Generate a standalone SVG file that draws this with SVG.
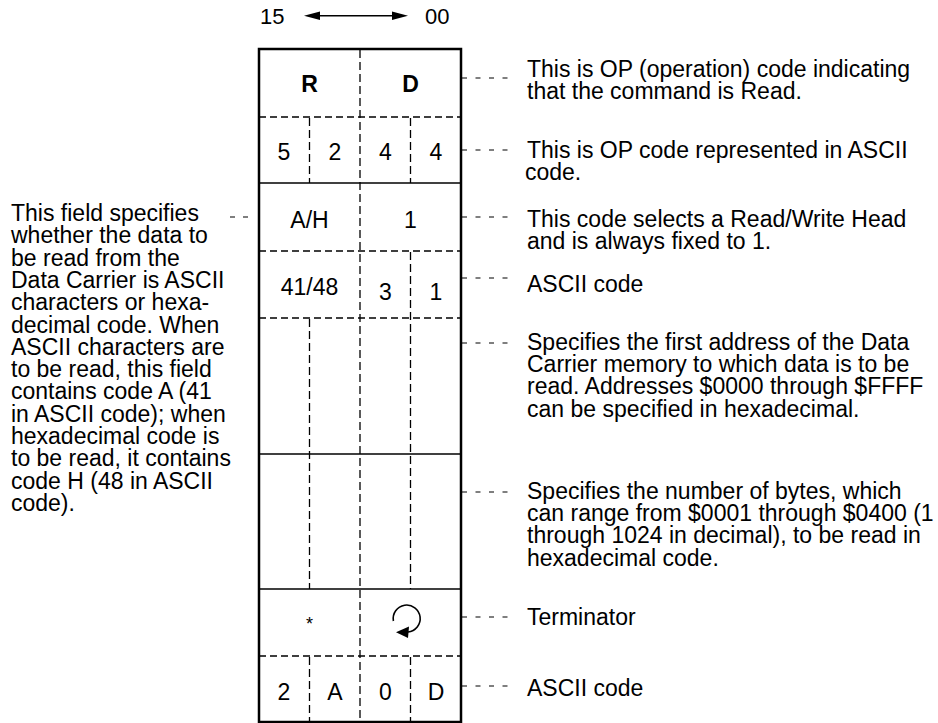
<svg xmlns="http://www.w3.org/2000/svg" width="938" height="723" viewBox="0 0 938 723">
<style>
text{font-family:"Liberation Sans",Arial,Helvetica,sans-serif;font-size:23px;fill:#000}
.c{text-anchor:middle}
.b{font-weight:bold}
.outer{fill:none;stroke:#000;stroke-width:2.5}
.solid{stroke:#000;stroke-width:1.5;fill:none}
.dv{stroke:#000;stroke-width:1.3;stroke-dasharray:8 4}
.dh{stroke:#000;stroke-width:1.3;stroke-dasharray:7 4}
.lead{stroke:#000;stroke-width:1.2;stroke-dasharray:5 8.5}
</style>
<rect width="938" height="723" fill="#fff"/>

<g id="bit-header">
<text x="260" y="24" style="font-size:22px">15</text>
<text x="425" y="24" style="font-size:22px">00</text>
<line x1="312" y1="15.7" x2="400" y2="15.7" class="solid"/>
<polygon points="304,15.7 320,11.5 320,19.9"/>
<polygon points="408,15.7 392,11.5 392,19.9"/>
</g>

<g id="frame">
<rect x="259" y="49" width="202" height="673" class="outer"/>
<line x1="259" y1="117" x2="461" y2="117" class="dh"/>
<line x1="259" y1="183" x2="461" y2="183" class="solid"/>
<line x1="259" y1="251" x2="461" y2="251" class="dh"/>
<line x1="259" y1="318" x2="461" y2="318" class="dh"/>
<line x1="259" y1="454" x2="461" y2="454" class="solid"/>
<line x1="259" y1="589" x2="461" y2="589" class="solid"/>
<line x1="259" y1="656" x2="461" y2="656" class="dh"/>
<line x1="360" y1="50" x2="360" y2="721" class="dv"/>
<line x1="309.5" y1="118" x2="309.5" y2="183" class="dv"/>
<line x1="309.5" y1="319" x2="309.5" y2="589" class="dv"/>
<line x1="309.5" y1="657" x2="309.5" y2="721" class="dv"/>
<line x1="410.5" y1="118" x2="410.5" y2="183" class="dv"/>
<line x1="410.5" y1="252" x2="410.5" y2="589" class="dv"/>
<line x1="410.5" y1="657" x2="410.5" y2="721" class="dv"/>
</g>

<g id="field-opcode">
<text x="309.5" y="92" class="c b">R</text>
<text x="410.5" y="92" class="c b">D</text>
</g>
<g id="field-opcode-ascii">
<text x="284" y="160" class="c">5</text>
<text x="335" y="160" class="c">2</text>
<text x="385.5" y="160" class="c">4</text>
<text x="436" y="160" class="c">4</text>
</g>
<g id="field-head">
<text x="309.5" y="228" class="c">A/H</text>
<text x="410.5" y="228" class="c">1</text>
</g>
<g id="field-head-ascii">
<text x="309.5" y="295" class="c">41/48</text>
<text x="385.5" y="300" class="c">3</text>
<text x="436" y="300" class="c">1</text>
</g>
<g id="field-address"></g>
<g id="field-bytes"></g>
<g id="field-terminator">
<text x="309.5" y="630" class="c" style="font-size:18px">*</text>
<path d="M393.4,621 A13.5,13.5 0 1 1 408,632" class="solid" style="stroke-width:1.6"/>
<polygon points="396,632.3 409,626.5 408,638"/>
</g>
<g id="field-terminator-ascii">
<text x="284" y="700" class="c">2</text>
<text x="335" y="700" class="c">A</text>
<text x="385.5" y="700" class="c">0</text>
<text x="436" y="700" class="c">D</text>
</g>

<g id="desc-opcode">
<text x="527" y="77">This is OP (operation) code indicating</text>
<text x="527" y="99">that the command is Read.</text>
</g>
<g id="desc-opcode-ascii">
<text x="527" y="158">This is OP code represented in ASCII</text>
<text x="525" y="180">code.</text>
</g>
<g id="desc-head">
<text x="527" y="227">This code selects a Read/Write Head</text>
<text x="527" y="249">and is always fixed to 1.</text>
</g>
<g id="desc-head-ascii">
<text x="527" y="292">ASCII code</text>
</g>
<g id="desc-address">
<text x="527" y="350">Specifies the first address of the Data</text>
<text x="527" y="372">Carrier memory to which data is to be</text>
<text x="527" y="394">read. Addresses $0000 through $FFFF</text>
<text x="527" y="417">can be specified in hexadecimal.</text>
</g>
<g id="desc-bytes">
<text x="527" y="499">Specifies the number of bytes, which</text>
<text x="527" y="521">can range from $0001 through $0400 (1</text>
<text x="527" y="543">through 1024 in decimal), to be read in</text>
<text x="527" y="566">hexadecimal code.</text>
</g>
<g id="desc-terminator">
<text x="527" y="625">Terminator</text>
</g>
<g id="desc-terminator-ascii">
<text x="527" y="696">ASCII code</text>
</g>
<g id="desc-data-code">
<text x="11" y="221">This field specifies</text>
<text x="11" y="243.3">whether the data to</text>
<text x="11" y="265.6">be read from the</text>
<text x="11" y="287.9">Data Carrier is ASCII</text>
<text x="11" y="310.2">characters or hexa-</text>
<text x="11" y="332.5">decimal code. When</text>
<text x="11" y="354.8">ASCII characters are</text>
<text x="11" y="377.1">to be read, this field</text>
<text x="11" y="399.4">contains code A (41</text>
<text x="11" y="421.7">in ASCII code); when</text>
<text x="11" y="444">hexadecimal code is</text>
<text x="11" y="466.3">to be read, it contains</text>
<text x="11" y="488.6">code H (48 in ASCII</text>
<text x="11" y="510.9">code).</text>
</g>

<g id="connectors">
<line x1="462" y1="78" x2="512" y2="78" class="lead"/>
<line x1="462" y1="150" x2="512" y2="150" class="lead"/>
<line x1="462" y1="217" x2="512" y2="217" class="lead"/>
<line x1="462" y1="278" x2="512" y2="278" class="lead"/>
<line x1="462" y1="343" x2="512" y2="343" class="lead"/>
<line x1="462" y1="492" x2="512" y2="492" class="lead"/>
<line x1="462" y1="617" x2="512" y2="617" class="lead"/>
<line x1="462" y1="686" x2="512" y2="686" class="lead"/>
<line x1="230" y1="217" x2="249" y2="217" class="lead" style="stroke-dasharray:5 8"/>
</g>
</svg>
